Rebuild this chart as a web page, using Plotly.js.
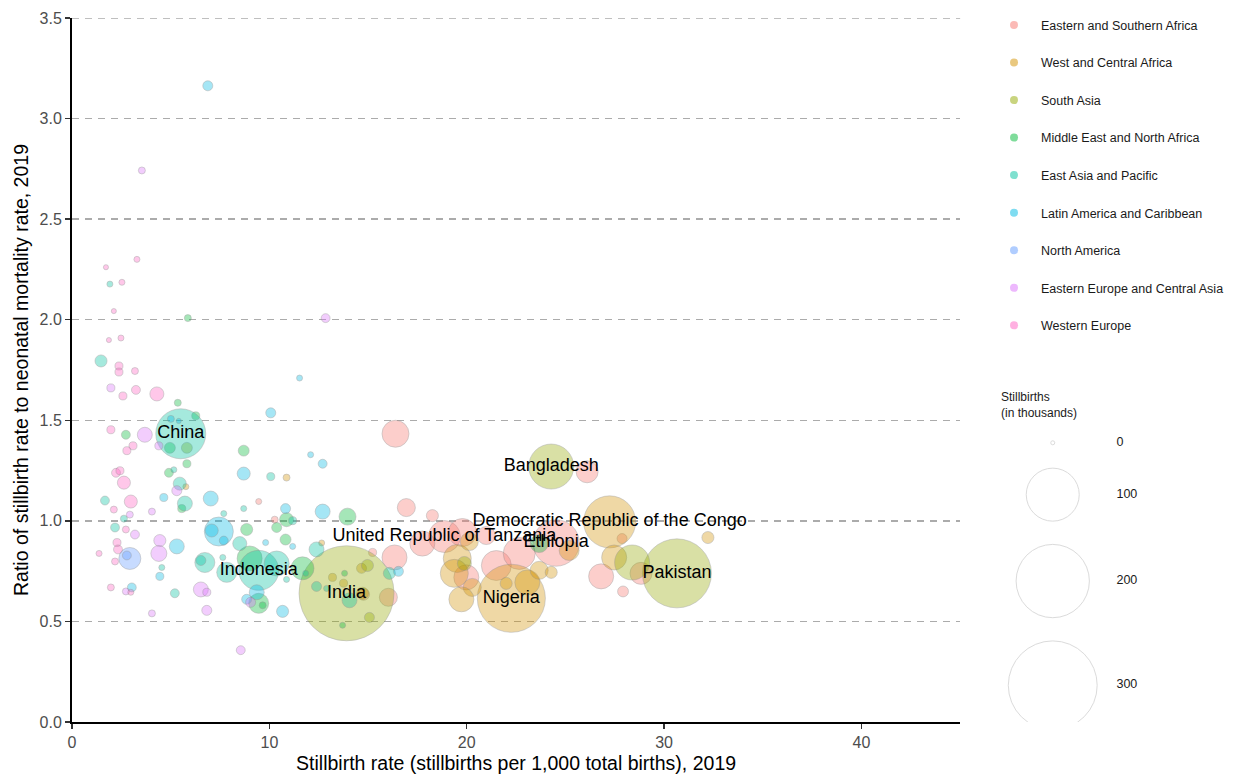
<!DOCTYPE html>
<html>
<head>
<meta charset="utf-8">
<script src="https://cdn.plot.ly/plotly-3.0.1.min.js"></script>
<style>html,body{margin:0;padding:0;background:#fff;}#chart{width:1239px;height:780px;}</style>
</head>
<body>
<div id="chart"></div>
<script>
// ---------------- DATA ----------------
const regions = ["Eastern and Southern Africa","West and Central Africa","South Asia","Middle East and North Africa","East Asia and Pacific","Latin America and Caribbean","North America","Eastern Europe and Central Asia","Western Europe"];
const regionColors = ["#F8766D","#D39200","#93AA00","#00BA38","#00C19F","#00B9E3","#619CFF","#DB72FB","#FF61C3"];

// stillbirth rate (per 1,000 total births), ratio SBR/NMR, stillbirths (thousands)
const rateESA  = [16.39,26.10,16.94,18.26,18.87,19.78,17.75,20.99,24.53,27.87,28.83,26.81,27.92,21.50,22.66,19.98,16.34,15.23,16.03,9.46,10.27,14.77];
const ratioESA = [1.433,1.244,1.066,1.026,0.922,0.942,0.887,0.927,0.890,0.912,0.739,0.724,0.649,0.778,0.838,0.719,0.818,0.843,0.620,1.096,1.006,0.635];
const sbESA    = [22,13.5,8.2,2.7,32.6,24,18.4,8.2,75,1.5,13.5,18.4,2.0,28,32.6,18.4,18.4,0.67,8.2,0.17,0.37,2.7];

const rateWCA  = [27.24,22.26,32.22,27.47,25.19,23.07,23.67,24.28,19.52,19.37,20.28,19.73,22.00,14.72,14.67,13.20,12.65,10.87,5.77,13.76,20.13];
const ratioWCA = [0.995,0.615,0.917,0.818,0.853,0.694,0.754,0.744,0.813,0.739,0.669,0.610,0.689,0.640,0.764,0.719,0.890,1.215,1.170,0.690,0.897];
const sbWCA    = [96,171,2.7,18.4,10.7,18.4,8.2,2.7,24,24,8.2,18.4,2.7,2.7,1.5,0.67,0.17,0.37,0.17,0.67,8.2];

const rateSA   = [13.91,24.28,30.65,28.38,5.82,14.97,19.88,15.07];
const ratioSA  = [0.640,1.270,0.739,0.793,1.363,0.778,0.788,0.520];
const sbSA     = [345,70,176,40,2.0,2.7,4.2,1.5];

const rateMENA  = [5.87,5.36,6.27,2.73,4.96,8.70,5.82,4.91,5.56,13.96,8.85,10.87,10.37,10.82,9.00,11.68,9.46,9.66,13.81,13.71,23.67];
const ratioMENA = [2.008,1.587,1.522,1.428,1.363,1.349,1.284,1.239,1.061,1.021,0.957,1.006,0.967,0.907,0.813,0.764,0.590,0.580,0.739,0.481,0.887];
const sbMENA    = [0.37,0.37,0.67,1.0,2.0,2.0,0.67,1.0,0.67,7,2.7,4.2,1.5,2.0,18.4,15,10.7,0.37,0.17,0.17,8.2];

const rateEAP  = [1.92,1.47,5.51,5.16,5.46,1.67,5.72,7.69,8.70,10.07,2.63,2.18,8.50,11.18,12.39,6.73,6.53,7.64,9.46,10.37,7.84,11.84,10.87,4.55,5.21,12.39,14.06,16.08,12.90];
const ratioEAP = [2.177,1.795,1.433,1.254,1.185,1.101,1.086,1.036,1.061,1.220,1.011,0.967,0.887,1.001,0.858,0.793,0.803,0.818,0.754,0.788,0.744,0.739,0.709,0.768,0.640,0.674,0.605,0.739,0.664];
const sbEAP    = [0.17,2.7,88,0.17,3.4,1.0,5.0,0.17,0.17,0.67,0.37,1.0,4.2,0.67,5.0,10.7,1.5,0.17,54,18.4,10.7,0.17,0.17,0.17,1.0,1.5,5.0,2.7,0.17];

const rateLAC  = [6.88,11.53,10.07,5.01,5.41,12.09,12.70,8.70,4.65,7.03,10.82,12.70,7.44,7.08,7.69,9.81,11.18,5.31,4.45,3.03,9.36,8.85,10.67,16.54];
const ratioLAC = [3.163,1.710,1.537,1.507,1.497,1.329,1.284,1.235,1.116,1.111,1.061,1.046,0.947,0.952,0.902,0.892,0.873,0.873,0.724,0.669,0.645,0.610,0.550,0.749];
const sbLAC    = [1.5,0.17,1.5,0.37,0.05,0.17,1.0,3.4,0.67,5.0,1.5,5.0,26,3.4,1.0,0.17,0.17,5.0,0.67,1.0,5.0,1.5,2.7,1.5];

const rateNA   = [2.93,2.78];
const ratioNA  = [0.813,0.828];
const sbNA     = [13.5,1.0];

const rateEECA  = [3.54,12.85,1.97,3.69,4.40,5.31,2.93,4.05,3.19,4.45,4.40,2.73,6.53,6.83,4.05,6.83,8.55,9.05];
const ratioEECA = [2.742,2.008,1.661,1.428,1.373,1.150,1.031,1.046,0.932,0.902,0.838,0.649,0.659,0.645,0.540,0.555,0.357,0.595];
const sbEECA    = [0.37,1.0,0.67,5.0,0.67,1.5,0.37,0.37,1.0,2.7,6.0,0.37,5.0,0.67,0.37,1.5,1.0,1.5];

const rateWE   = [3.29,1.72,2.53,2.12,1.87,2.48,2.38,2.38,3.19,2.58,3.24,4.30,1.97,3.09,2.78,2.23,2.43,2.63,2.98,2.12,2.73,2.28,2.33,1.37,2.18,1.97,2.98];
const ratioWE  = [2.300,2.261,2.186,2.043,1.899,1.909,1.770,1.740,1.745,1.621,1.651,1.631,1.453,1.373,1.349,1.239,1.249,1.190,1.096,1.056,0.957,0.892,0.858,0.838,0.798,0.669,0.645];
const sbWE     = [0.17,0.05,0.17,0.05,0.05,0.17,0.67,0.67,0.37,0.67,1.0,4.2,0.67,0.67,0.67,1.0,0.67,3.4,3.4,0.37,0.37,0.67,1.0,0.17,0.37,0.37,0.17];

// labelled countries: name, region index, index within region arrays
const labelNames  = ["China","Indonesia","India","United Republic of Tanzania","Bangladesh","Democratic Republic of the Congo","Ethiopia","Nigeria","Pakistan"];
const labelRegion = [4,4,2,0,2,1,0,1,2];
const labelIndex  = [2,18,0,4,1,0,8,1,2];

// axis ticks
const yTop = 3.5;
const xMax = 45;

// size legend
const sizeLegendValues = [0,100,200,300];
const sizeLegendLabels = ["0","100","200","300"];

// ---------------- BUILD ----------------
const rates  = [rateESA,rateWCA,rateSA,rateMENA,rateEAP,rateLAC,rateNA,rateEECA,rateWE];
const ratios = [ratioESA,ratioWCA,ratioSA,ratioMENA,ratioEAP,ratioLAC,ratioNA,ratioEECA,ratioWE];
const sbs    = [sbESA,sbWCA,sbSA,sbMENA,sbEAP,sbLAC,sbNA,sbEECA,sbWE];

function diam(v){ return 4 + 4.9*Math.sqrt(v); }
function rgba(hex,a){
  const r=parseInt(hex.slice(1,3),16), g=parseInt(hex.slice(3,5),16), b=parseInt(hex.slice(5,7),16);
  return 'rgba('+r+','+g+','+b+','+a+')';
}
const FONT = 'Arial, "Liberation Sans", Helvetica, sans-serif';

const traces = [];
regions.forEach((name,i)=>{
  traces.push({
    type:'scatter', mode:'markers', x:rates[i], y:ratios[i], name:name,
    showlegend:false, hoverinfo:'skip',
    marker:{size:sbs[i].map(diam), sizemode:'diameter', color:rgba(regionColors[i],0.5),
            line:{color:'rgba(140,140,140,0.5)', width:1}}
  });
});
// legend entries
regions.forEach((name,i)=>{
  traces.push({
    type:'scatter', mode:'markers', x:[null], y:[null], name:name, legendgroup:'g'+i,
    showlegend:true, hoverinfo:'skip',
    marker:{size:8, color:rgba(regionColors[i],0.5), line:{width:0}}
  });
});
// country labels
traces.push({
  type:'scatter', mode:'text', showlegend:false, hoverinfo:'skip',
  x: labelNames.map((n,k)=>rates[labelRegion[k]][labelIndex[k]]),
  y: labelNames.map((n,k)=>ratios[labelRegion[k]][labelIndex[k]]),
  text: labelNames, textposition:'middle center',
  textfont:{family:FONT, size:18, color:'#000'}
});

// size legend (pixel-like coordinates in a side subplot)
const sizeY = [];
let yy = 442;
sizeLegendValues.forEach((v,k)=>{
  if(k>0){ yy += (diam(sizeLegendValues[k-1]) + diam(v))/2 + 23.5; }
  sizeY.push(yy);
});
traces.push({
  type:'scatter', mode:'markers', xaxis:'x2', yaxis:'y2', showlegend:false, hoverinfo:'skip',
  x: sizeLegendValues.map(()=>1057), y: sizeY,
  marker:{size:sizeLegendValues.map(diam), sizemode:'diameter', color:'rgba(255,255,255,0)',
          line:{color:'rgb(205,205,205)', width:1}}
});
traces.push({
  type:'scatter', mode:'text', xaxis:'x2', yaxis:'y2', showlegend:false, hoverinfo:'skip',
  x: sizeLegendValues.map(()=>1121), y: sizeY, text:sizeLegendLabels, textposition:'middle right',
  textfont:{family:FONT, size:12.5, color:'#1a1a1a'}
});

const W = 1239, ml = 72, mr = 10;
const pw = W - ml - mr;
const layout = {
  width:1239, height:780,
  margin:{l:ml, r:mr, t:16, b:58},
  paper_bgcolor:'#fff', plot_bgcolor:'rgba(0,0,0,0)',
  hovermode:false,
  font:{family:FONT, color:'#000'},
  xaxis:{domain:[0, 892/pw], range:[0,xMax], dtick:10, tick0:0, showgrid:false, zeroline:false,
         showline:true, linecolor:'#000', linewidth:2, ticks:'outside', ticklen:5, tickwidth:1.5, tickcolor:'#333',
         tickfont:{family:FONT, size:16, color:'#4d4d4d'},
         title:{text:'Stillbirth rate (stillbirths per 1,000 total births), 2019', font:{family:FONT, size:19.5, color:'#000'}, standoff:6}},
  yaxis:{domain:[0,1], range:[0,yTop], dtick:0.5, tick0:0, tickformat:'.1f', zeroline:false,
         showgrid:true, gridcolor:'#ababab', gridwidth:1.5, griddash:'7px,6px',
         showline:true, linecolor:'#000', linewidth:2, ticks:'outside', ticklen:5, tickwidth:1.5, tickcolor:'#333',
         tickfont:{family:FONT, size:16, color:'#4d4d4d'},
         title:{text:'Ratio of stillbirth rate to neonatal mortality rate, 2019', font:{family:FONT, size:19.5, color:'#000'}, standoff:6}},
  xaxis2:{domain:[(974-ml)/pw, 1], range:[974, 974 + (1-(974-ml)/pw)*pw], anchor:'y2', visible:false, fixedrange:true},
  yaxis2:{domain:[0,1], range:[722,16], anchor:'x2', visible:false, fixedrange:true},
  legend:{x:(991-ml)/pw, xanchor:'left', y:1.011, yanchor:'top', traceorder:'grouped', tracegroupgap:18.3,
          itemwidth:44, font:{family:FONT, size:12.5, color:'#1a1a1a'}, bgcolor:'rgba(0,0,0,0)', borderwidth:0},
  shapes:[{type:'line', xref:'x domain', yref:'y', x0:0, x1:1, y0:yTop, y1:yTop, layer:'below',
           line:{color:'#ababab', width:1.5, dash:'7px,6px'}}],
  annotations:[{xref:'x2', yref:'y2', x:1003, y:404, xanchor:'left', yanchor:'middle', showarrow:false, align:'left',
                text:'Stillbirths<br>(in thousands)', font:{family:FONT, size:12, color:'#1a1a1a'}}]
};

Plotly.newPlot('chart', traces, layout, {displayModeBar:false, staticPlot:true});
</script>
</body>
</html>
